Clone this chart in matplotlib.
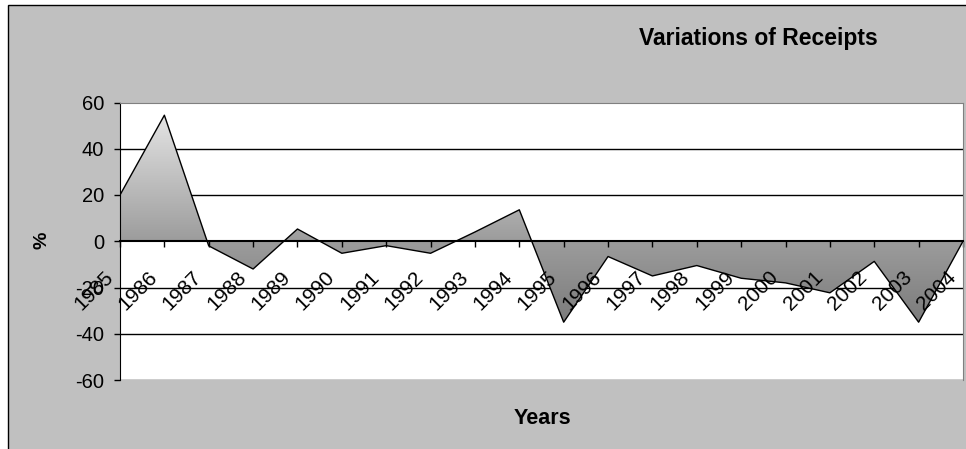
import numpy as np
import matplotlib
matplotlib.use("Agg")
import matplotlib.pyplot as plt
from matplotlib.colors import LinearSegmentedColormap
from matplotlib.patches import Polygon, Rectangle
from matplotlib.transforms import ScaledTranslation

# Yearly variation of receipts, in percent
years = [str(y) for y in range(1985, 2005)]
receipts_change = [20, 54.5, -2, -12, 5.3, -5.2, -1.9, -5.2, 4, 13.6,
                   -35, -6.6, -15, -10.5, -16, -18, -22.3, -8.7, -35, 0]
y_ticks = [-60, -40, -20, 0, 20, 40, 60]

plt.rcParams['font.family'] = ['Liberation Sans', 'DejaVu Sans']

W, H = 966, 449
fig = plt.figure(figsize=(W / 100, H / 100), dpi=100, facecolor='white')

# grey chart area with a thin black frame
fig.patches.append(Rectangle((8 / W, -0.05), 1.1, 1 - 5 / H + 0.05,
                             transform=fig.transFigure, facecolor='#c0c0c0',
                             edgecolor='black', lw=1, zorder=-5))

ax = fig.add_axes([120 / W, 1 - 380 / H, 843 / W, (380 - 102.5) / H])
ax.set_zorder(2)
ax.set_facecolor('white')

x = np.arange(len(years))
vals = np.array(receipts_change, dtype=float)

# horizontal gridlines sit behind the shaded area
for yv in y_ticks:
    if yv not in (0, y_ticks[-1]):
        ax.axhline(yv, color='black', lw=1, zorder=0.5)

# vertical grey gradient, clipped to the area under the curve
cmap = LinearSegmentedColormap.from_list(
    'shade', [(0.0, '#7c7c7c'), (35 / 89.5, '#9c9c9c'), (1.0, '#e4e4e4')])
grad = np.linspace(0, 1, 256).reshape(-1, 1)
im = ax.imshow(grad, cmap=cmap, origin='lower', aspect='auto',
               extent=(x[0], x[-1], vals.min(), vals.max()), zorder=1)
verts = [(x[0], 0)] + list(zip(x, vals)) + [(x[-1], 0)]
area = Polygon(verts, closed=True, facecolor='none', edgecolor='none')
ax.add_patch(area)
im.set_clip_path(area)
ax.plot(x, vals, color='black', lw=1, zorder=1.5)

ax.set_xlim(x[0], x[-1])
ax.set_ylim(-60, 60)
ax.set_yticks(y_ticks)
ax.set_yticklabels([str(v) for v in y_ticks], fontsize=14.5)
ax.tick_params(axis='y', direction='out', length=6 * 0.72, width=1, pad=7)

ax.spines['bottom'].set_position(('data', 0))
ax.spines['bottom'].set_linewidth(1.5)
ax.spines['bottom'].set_zorder(4)
ax.spines['left'].set_color('black')
ax.spines['top'].set_color('#808080')
ax.spines['right'].set_color('#808080')

ax.set_xticks(x)
ax.set_xticklabels(years, rotation=45, ha='right', va='center',
                   rotation_mode='anchor', fontsize=15)
ax.tick_params(axis='x', direction='out', length=6 * 0.72, width=1, pad=19.4)
shift = ScaledTranslation(-10 / 100, 0, fig.dpi_scale_trans)
for lab in ax.get_xticklabels():
    lab.set_transform(lab.get_transform() + shift)

fig.text(758.5 / W, 1 - 39 / H, 'Variations of Receipts', ha='center',
         va='center', fontsize=16.5, fontweight='bold')
fig.text(542 / W, 1 - 418 / H, 'Years', ha='center', va='center',
         fontsize=15.5, fontweight='bold')
fig.text(42 / W, 1 - 240 / H, '%', ha='center', va='center', rotation=90,
         fontsize=14, fontweight='bold')

fig.savefig('out.png', dpi=100, facecolor='white')
